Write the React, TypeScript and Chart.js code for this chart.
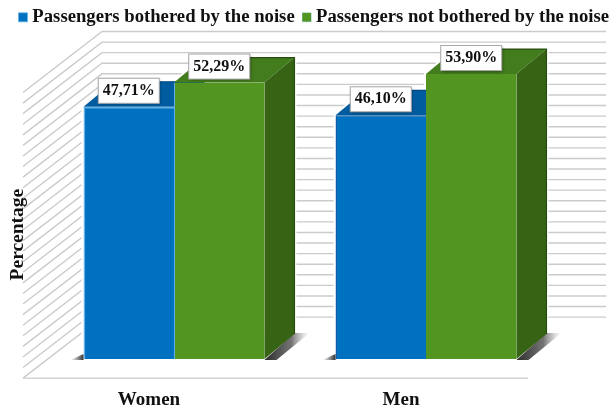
import React, { useEffect, useRef } from "react";
import { Chart, registerables } from "chart.js";

Chart.register(...registerables);

const categories = ["Women", "Men"];
const botheredValues = [47.71, 46.1];
const notBotheredValues = [52.29, 53.9];
const seriesNames = ["Passengers bothered by the noise", "Passengers not bothered by the noise"];
const percentTicks = [0, 2, 4, 6, 8, 10, 12, 14, 16, 18, 20, 22, 24, 26, 28, 30, 32, 34, 36, 38, 40, 42, 44, 46, 48, 50, 52, 54];

const FONT = '"Liberation Serif", "Times New Roman", serif';
const DEPTH_X = 30;
const DEPTH_Y = 25;
const WALL_BACK_X = 54;
const WALL_FRONT_X = 25;
const WALL_BACK_Y = 42;
const FLOOR_FRONT_Y = 19;

const faces = [
  { top: "#005b9f", side: "#004f8c", edge: "#004a85" },
  { top: "#437c1c", side: "#366314", edge: "#274c0c" },
];

function poly(ctx: CanvasRenderingContext2D, pts: number[][]) {
  ctx.beginPath();
  pts.forEach((p, i) => (i ? ctx.lineTo(p[0], p[1]) : ctx.moveTo(p[0], p[1])));
  ctx.closePath();
}

const scene3d = {
  id: "scene3d",
  beforeDatasetsDraw(chart: any) {
    const { ctx, chartArea } = chart;
    const y = chart.scales.y;
    const zero = y.getPixelForValue(0);
    ctx.save();
    ctx.strokeStyle = "#cbcbcb";
    ctx.lineWidth = 1.4;
    const backX = chartArea.left + WALL_BACK_X;
    const frontX = chartArea.left - WALL_FRONT_X;
    const rightX = chartArea.right + WALL_BACK_X;
    y.ticks.forEach((t: any) => {
      const py = y.getPixelForValue(t.value) - WALL_BACK_Y;
      ctx.beginPath();
      ctx.moveTo(frontX, py + WALL_BACK_Y + FLOOR_FRONT_Y);
      ctx.lineTo(backX, py);
      ctx.lineTo(rightX, py);
      ctx.stroke();
    });
    ctx.beginPath();
    ctx.moveTo(frontX, zero + FLOOR_FRONT_Y);
    ctx.lineTo(chartArea.right - 24, zero + FLOOR_FRONT_Y);
    ctx.stroke();

    chart.data.datasets.forEach((_: any, d: number) => {
      chart.getDatasetMeta(d).data.forEach((bar: any) => {
        const l = bar.x - bar.width / 2;
        const r = bar.x + bar.width / 2;
        const t = bar.y;
        const b = bar.base;
        // white halo that breaks the grid around each bar
        ctx.strokeStyle = "#ffffff";
        ctx.lineWidth = 4;
        poly(ctx, [[l, t], [l + DEPTH_X, t - DEPTH_Y], [r + DEPTH_X, t - DEPTH_Y], [r + DEPTH_X, b - DEPTH_Y], [r, b], [l, b]]);
        ctx.stroke();
        ctx.fillStyle = "#ffffff";
        ctx.fill();
        // floor shadows
        if (d === 0) {
          const g = ctx.createLinearGradient(l - 13, 0, l, 0);
          g.addColorStop(0, "rgba(60,60,60,0)");
          g.addColorStop(1, "rgba(40,40,40,0.95)");
          ctx.fillStyle = g;
          poly(ctx, [[l - 13, b + 1], [l, b + 1], [l, b - 5]]);
          ctx.fill();
        } else {
          const g = ctx.createLinearGradient(r, 0, r + DEPTH_X + 15, 0);
          g.addColorStop(0, "rgba(30,30,30,0.95)");
          g.addColorStop(0.6, "rgba(70,70,70,0.75)");
          g.addColorStop(1, "rgba(150,150,150,0)");
          ctx.fillStyle = g;
          poly(ctx, [[r, b + 1], [r + DEPTH_X, b - DEPTH_Y - 1], [r + DEPTH_X + 15, b - DEPTH_Y - 1], [r + 12, b + 1]]);
          ctx.fill();
        }
      });
    });

    chart.data.datasets.forEach((_: any, d: number) => {
      chart.getDatasetMeta(d).data.forEach((bar: any) => {
        const l = bar.x - bar.width / 2;
        const r = bar.x + bar.width / 2;
        const t = bar.y;
        const b = bar.base;
        ctx.fillStyle = faces[d].top;
        poly(ctx, [[l, t], [l + DEPTH_X, t - DEPTH_Y], [r + DEPTH_X, t - DEPTH_Y], [r, t]]);
        ctx.fill();
        ctx.fillStyle = faces[d].side;
        poly(ctx, [[r, t], [r + DEPTH_X, t - DEPTH_Y], [r + DEPTH_X, b - DEPTH_Y], [r, b]]);
        ctx.fill();
        ctx.strokeStyle = faces[d].edge;
        ctx.lineWidth = 1.2;
        ctx.beginPath();
        ctx.moveTo(l + DEPTH_X, t - DEPTH_Y);
        ctx.lineTo(r + DEPTH_X, t - DEPTH_Y);
        ctx.lineTo(r + DEPTH_X, b - DEPTH_Y);
        ctx.stroke();
      });
    });
    ctx.restore();
  },
  afterDatasetsDraw(chart: any) {
    const { ctx } = chart;
    ctx.save();
    chart.data.datasets.forEach((ds: any, d: number) => {
      chart.getDatasetMeta(d).data.forEach((bar: any, i: number) => {
        const w = 61;
        const h = 25;
        const x = bar.x - w / 2;
        const yy = bar.y - 16 - h / 2;
        ctx.save();
        ctx.shadowColor = "rgba(0,0,0,0.45)";
        ctx.shadowBlur = 3;
        ctx.shadowOffsetX = 1;
        ctx.shadowOffsetY = 1;
        ctx.fillStyle = "#ffffff";
        ctx.fillRect(x, yy, w, h);
        ctx.restore();
        ctx.strokeStyle = "#a8a8a8";
        ctx.lineWidth = 1;
        ctx.strokeRect(x, yy, w, h);
        ctx.fillStyle = "#111111";
        ctx.font = `bold 16px ${FONT}`;
        ctx.textAlign = "center";
        ctx.textBaseline = "middle";
        ctx.fillText(ds.data[i].toFixed(2).replace(".", ",") + "%", bar.x, bar.y - 16);
      });
    });
    ctx.restore();
  },
};

export default function App() {
  const ref = useRef<HTMLCanvasElement>(null);
  useEffect(() => {
    const chart = new Chart(ref.current as HTMLCanvasElement, {
      type: "bar",
      plugins: [scene3d],
      data: {
        labels: categories,
        datasets: [
          {
            label: seriesNames[0],
            data: botheredValues,
            backgroundColor: "#0070c0",
            borderColor: ["#5fb2e8", "#0a5ca6"],
            borderWidth: { left: 1.5, right: 0, top: 1.5, bottom: 0 },
            clip: false,
          },
          {
            label: seriesNames[1],
            data: notBotheredValues,
            backgroundColor: "#529520",
            borderColor: ["#5fb2e8", "#529520"],
            borderWidth: { left: 1, right: 0, top: 0, bottom: 0 },
            clip: false,
          },
        ] as any,
      },
      options: {
        responsive: false,
        animation: false,
        layout: { padding: { left: 10, right: -10, top: -4, bottom: 0 } },
        plugins: {
          tooltip: { enabled: false },
          legend: {
            position: "top",
            labels: {
              color: "#111111",
              font: { family: FONT, size: 18.7, weight: "bold" },
              usePointStyle: true,
              pointStyle: "rect",
              boxWidth: 0.01,
              boxHeight: 9,
              padding: 12,
            },
          },
        },
        datasets: { bar: { barPercentage: 1, categoryPercentage: 0.718 } },
        scales: {
          x: {
            grid: { display: false },
            border: { display: false },
            ticks: {
              color: "#111111",
              padding: -4,
              labelOffset: -25,
              autoSkip: false,
              maxRotation: 0,
              font: { family: FONT, size: 19, weight: "bold" },
            },
            afterFit: (s: any) => { s.height = 26; },
          },
          spacerTop: {
            type: "category",
            axis: "x",
            position: "top",
            grid: { display: false },
            border: { display: false },
            ticks: { display: false },
            afterFit: (s: any) => { s.height = 47.5; },
          },
          y: {
            min: -4.9,
            max: 51.98,
            grid: { display: false },
            border: { display: false },
            ticks: { display: false },
            afterBuildTicks: (s: any) => { s.ticks = percentTicks.map((value) => ({ value })); },
            title: {
              display: true,
              text: "Percentage",
              color: "#111111",
              padding: { top: -3.4, bottom: 0 },
              font: { family: FONT, size: 19.5, weight: "bold" },
            },
            afterFit: (s: any) => { s.width = 38; },
          },
          spacerRight: {
            type: "linear",
            axis: "y",
            position: "right",
            grid: { display: false },
            border: { display: false },
            ticks: { display: false },
            afterFit: (s: any) => { s.width = 70; },
          },
        },
      } as any,
    });
    return () => chart.destroy();
  }, []);
  return (
    <div style={{ position: "absolute", left: 0, top: 0, width: 612, height: 411 }}>
      <canvas ref={ref} width={612} height={411} style={{ display: "block" }} />
    </div>
  );
}
